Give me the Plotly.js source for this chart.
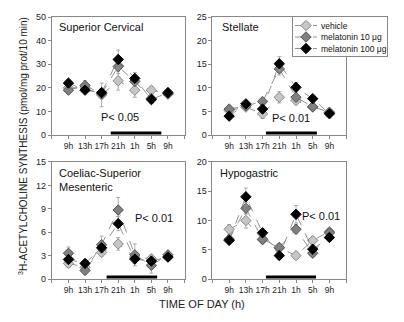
<!DOCTYPE html>
<html><head><meta charset="utf-8">
<script src="https://cdn.plot.ly/plotly-3.0.1.min.js"></script>
<style>html,body{margin:0;padding:0;background:#fff}#chart{width:404px;height:322px}</style>
</head><body><div id="chart"></div>
<script>
// ---- data ----
const timeLabels = ['9h','13h','17h','21h','1h','5h','9h'];
const seriesNames = ['vehicle','melatonin 10 \u03bcg','melatonin 100 \u03bcg'];
const panelTitles = ['Superior Cervical','Stellate','Coeliac-Superior<br>Mesenteric','Hypogastric'];
const pLabels = ['P< 0.05','P< 0.01','P< 0.01','P< 0.01'];
const yMax = [50, 25, 15, 20];
const yTicks = [[0,10,20,30,40,50],[0,5,10,15,20,25],[0,3,6,9,12,15],[0,5,10,15,20]];
const nightStart = [2.55, 2.2, 2.3, 2.2];
const nightEnd = [5.6, 5.25, 5.35, 5.2];

// Superior Cervical
const scVehicle = [20, 20, 17, 23, 19, 19, 17.3];
const scVehicleErr = [1.5, 1.5, 5, 4, 3, 1.5, 1];
const scMel10 = [19, 21, 17.5, 29, 22.7, 15.5, 17.5];
const scMel10Err = [1.5, 2, 2, 3, 2, 1.5, 1];
const scMel100 = [22, 19, 18, 32, 24, 15, 18];
const scMel100Err = [1.5, 1.5, 1.5, 4, 2.5, 1.5, 1];
// Stellate
const stVehicle = [5.2, 5.9, 4.5, 8.0, 7.3, 5.9, 4.8];
const stVehicleErr = [0.5, 0.5, 1, 1.2, 0.8, 0.5, 0.4];
const stMel10 = [5.5, 6.2, 7.1, 14.0, 8.0, 6.0, 4.8];
const stMel10Err = [0.5, 0.5, 0.7, 1.3, 0.8, 0.5, 0.4];
const stMel100 = [4.0, 6.6, 5.5, 15.1, 10.1, 7.7, 4.5];
const stMel100Err = [0.5, 0.5, 0.6, 1.5, 1, 0.7, 0.4];
// Coeliac-Superior Mesenteric
const csVehicle = [2.0, 1.5, 3.4, 4.5, 2.8, 2.6, 2.9];
const csVehicleErr = [0.5, 0.5, 0.5, 0.8, 0.6, 0.5, 0.4];
const csMel10 = [3.3, 1.1, 4.4, 8.85, 3.1, 1.75, 3.1];
const csMel10Err = [0.8, 0.5, 1.1, 1.6, 1.4, 1.0, 0.5];
const csMel100 = [2.5, 2.0, 4.0, 7.1, 2.55, 2.3, 2.8];
const csMel100Err = [0.5, 0.5, 0.6, 0.9, 0.5, 0.5, 0.4];
// Hypogastric
const hgVehicle = [8.5, 10.0, 6.7, 5.3, 4.0, 6.6, 8.1];
const hgVehicleErr = [0.8, 1.3, 0.6, 0.5, 0.6, 0.6, 0.6];
const hgMel10 = [6.8, 12.1, 6.8, 5.4, 8.5, 4.4, 7.9];
const hgMel10Err = [0.7, 1, 0.6, 0.6, 0.8, 0.5, 0.5];
const hgMel100 = [6.6, 14.05, 7.9, 4.0, 11.05, 5.1, 7.1];
const hgMel100Err = [0.5, 1.5, 0.6, 0.5, 1.5, 0.6, 0.5];

const panels = [
  [[scVehicle, scVehicleErr],[scMel10, scMel10Err],[scMel100, scMel100Err]],
  [[stVehicle, stVehicleErr],[stMel10, stMel10Err],[stMel100, stMel100Err]],
  [[csVehicle, csVehicleErr],[csMel10, csMel10Err],[csMel100, csMel100Err]],
  [[hgVehicle, hgVehicleErr],[hgMel10, hgMel10Err],[hgMel100, hgMel100Err]]
];

// ---- styles ----
const FONT = 'Liberation Sans, Arial, sans-serif';
const fills = ['#c6c6c6', '#808080', '#000000'];
const outlines = ['#8a8a8a', '#555555', '#000000'];
const xIdx = timeLabels.map((_, i) => i);

const traces = [];
panels.forEach((panel, p) => {
  const ax = p === 0 ? '' : String(p + 1);
  panel.forEach(([vals, errs], s) => {
    traces.push({
      type: 'scatter', mode: 'lines+markers',
      x: xIdx, y: vals,
      xaxis: 'x' + ax, yaxis: 'y' + ax,
      name: seriesNames[s], showlegend: p === 1, legendgroup: 's' + s,
      line: {color: '#777', width: 0.8, dash: 'dash'},
      marker: {symbol: 'diamond', size: 8, color: fills[s], line: {color: outlines[s], width: 1}},
      error_y: {type: 'data', array: errs, visible: true, color: '#999', thickness: 0.8, width: 2}
    });
  });
});

const xDomains = [[0.1287, 0.4579], [0.5272, 0.8589]];
const yDomains = [[0.5807, 0.9472], [0.1335, 0.4969]];
const layout = {
  width: 404, height: 322,
  margin: {l: 0, r: 0, t: 0, b: 0},
  paper_bgcolor: '#fff', plot_bgcolor: '#fff',
  font: {family: FONT, size: 9, color: '#222'},
  showlegend: true,
  legend: {x: 292 / 404, y: 1 - 16 / 322, xanchor: 'left', yanchor: 'top',
    bgcolor: '#fff', bordercolor: '#888', borderwidth: 1,
    font: {family: FONT, size: 8.5, color: '#111'}, tracegroupgap: 0},
  shapes: [], annotations: []
};

panels.forEach((_, p) => {
  const ax = p === 0 ? '' : String(p + 1);
  const col = p % 2, row = Math.floor(p / 2);
  layout['xaxis' + ax] = {
    domain: xDomains[col], anchor: 'y' + ax, range: [-1, 7],
    tickvals: xIdx, ticktext: timeLabels, tickangle: 0,
    ticks: 'outside', ticklen: 3, tickcolor: '#888',
    minor: {tick0: -1, dtick: 1, ticks: 'outside', ticklen: 3, tickcolor: '#888', showgrid: false},
    showline: true, linecolor: '#888', linewidth: 1, mirror: true,
    showgrid: false, zeroline: false, fixedrange: true,
    tickfont: {family: FONT, size: 8.5, color: '#222'}
  };
  layout['yaxis' + ax] = {
    domain: yDomains[row], anchor: 'x' + ax, range: [0, yMax[p]],
    tickvals: yTicks[p],
    ticks: 'outside', ticklen: 3, tickcolor: '#888',
    showline: true, linecolor: '#888', linewidth: 1, mirror: true,
    showgrid: false, zeroline: false, fixedrange: true,
    tickfont: {family: FONT, size: 9, color: '#222'}
  };
  layout.shapes.push({
    type: 'rect', xref: 'x' + ax, yref: 'y' + ax + ' domain',
    x0: nightStart[p], x1: nightEnd[p], y0: 0.005, y1: 0.03,
    fillcolor: '#000', line: {width: 0}, layer: 'above'
  });
  const titlePos = [[0.04, 0.915], [0.06, 0.915], [0.04, 0.85], [0.045, 0.905]][p];
  layout.annotations.push({
    xref: 'x' + ax + ' domain', yref: 'y' + ax + ' domain',
    x: titlePos[0], y: titlePos[1], xanchor: 'left', yanchor: 'middle',
    text: panelTitles[p], showarrow: false, align: 'left',
    font: {family: FONT, size: 11, color: '#111'}
  });
  const pPos = [[0.51, 0.15], [0.59, 0.145], [0.77, 0.52], [0.81, 0.54]][p];
  layout.annotations.push({
    xref: 'x' + ax + ' domain', yref: 'y' + ax + ' domain',
    x: pPos[0], y: pPos[1], xanchor: 'center', yanchor: 'middle',
    text: pLabels[p], showarrow: false,
    font: {family: FONT, size: 11, color: '#111'}
  });
});

layout.annotations.push({
  xref: 'paper', yref: 'paper', x: 23 / 404, y: 1 - 146 / 322,
  xanchor: 'center', yanchor: 'middle', textangle: -90, showarrow: false,
  text: '<sup>3</sup>H-ACETYLCHOLINE SYNTHESIS (pmol/mg prot/10 min)',
  font: {family: FONT, size: 10, color: '#222'}
});
layout.annotations.push({
  xref: 'paper', yref: 'paper', x: 203 / 404, y: 1 - 304 / 322,
  xanchor: 'center', yanchor: 'middle', showarrow: false,
  text: 'TIME OF DAY (h)',
  font: {family: FONT, size: 11, color: '#222'}
});

// Tighten the legend to the compact layout of the reference
function compactLegend() {
  const root = document.querySelector('#chart .legend');
  if (!root) return;
  root.setAttribute('transform', 'translate(292,16)');
  const items = root.querySelectorAll('.traces');
  const step = 11.5, top = 9.5;
  items.forEach((el, i) => {
    el.setAttribute('transform', 'translate(0,' + (top + i * step) + ')');
  });
  root.querySelectorAll('.legendlines path').forEach(p => p.setAttribute('d', 'M3,0h22'));
  root.querySelectorAll('.legendpoints path').forEach(p => p.setAttribute('transform', 'translate(14,0)'));
  root.querySelectorAll('text.legendtext').forEach(t => {
    t.setAttribute('x', 29);
    t.querySelectorAll('tspan[x]').forEach(s => s.setAttribute('x', 29));
  });
  root.querySelectorAll('rect.bg').forEach(bg => {
    bg.setAttribute('height', 40);
    bg.setAttribute('width', 95);
  });
}
Plotly.newPlot('chart', traces, layout, {staticPlot: true, displayModeBar: false}).then(compactLegend);
</script></body></html>
